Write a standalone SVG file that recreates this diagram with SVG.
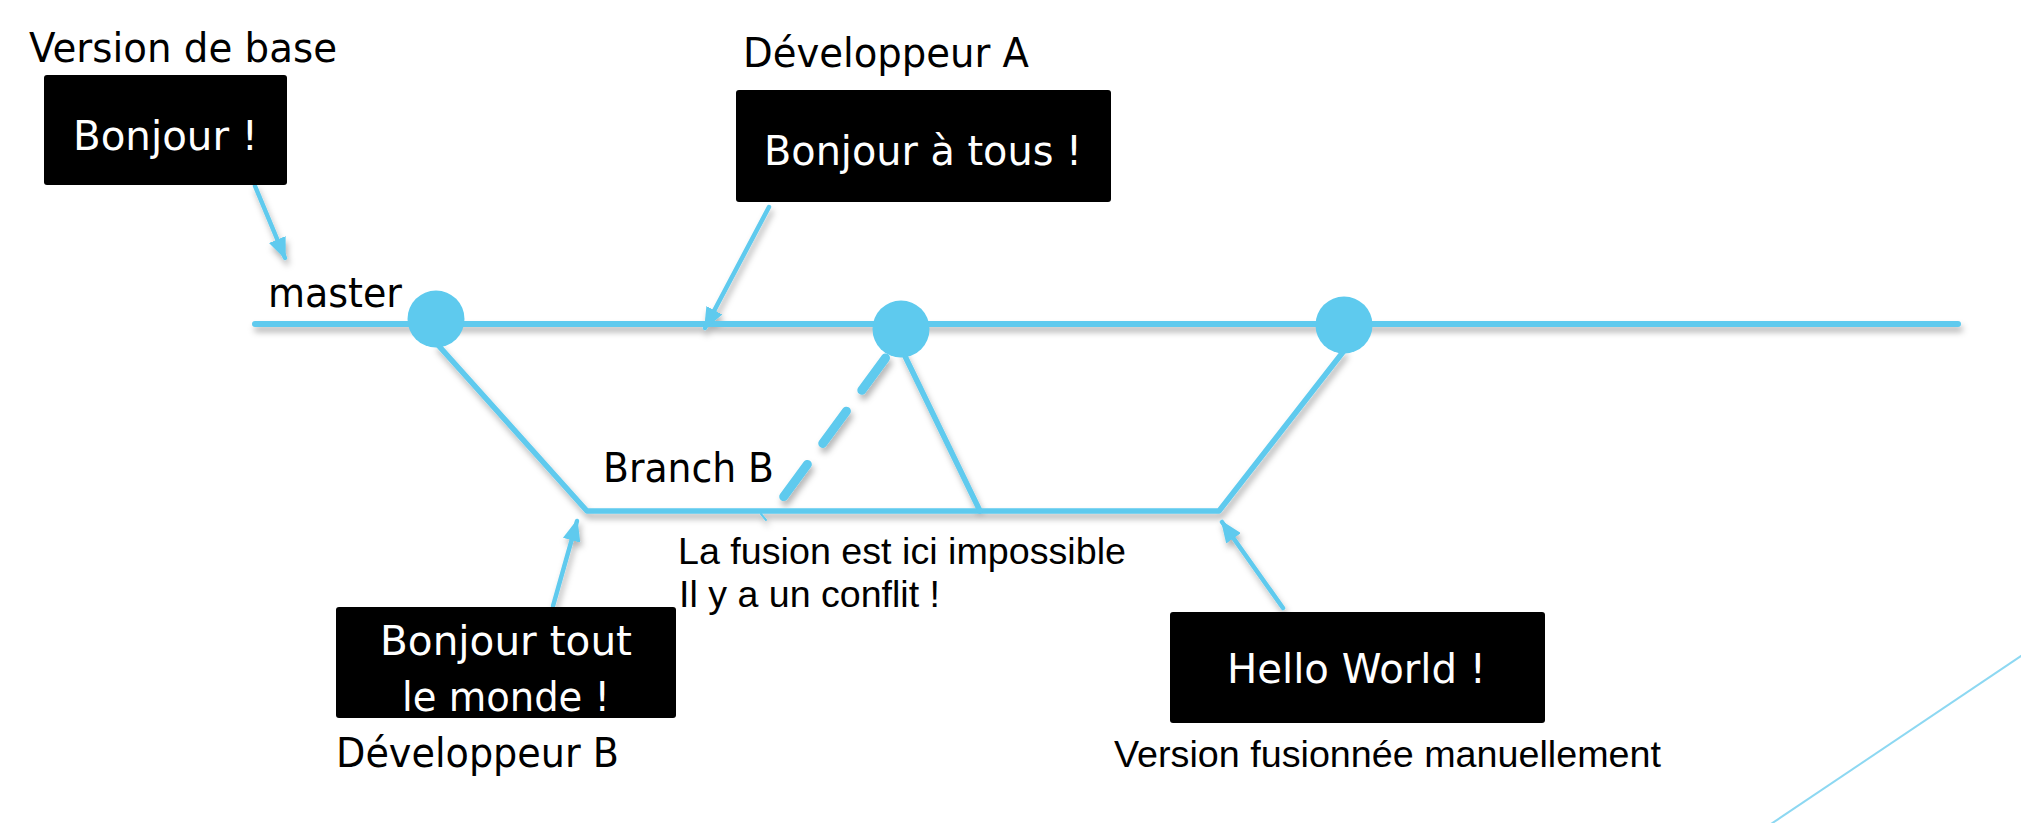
<svg xmlns="http://www.w3.org/2000/svg" width="2021" height="823" viewBox="0 0 2021 823">
<style>
.lbl{font-family:"DejaVu Sans","Noto Sans",sans-serif;font-size:40px;fill:#000}
.wt{font-family:"DejaVu Sans","Noto Sans",sans-serif;font-size:40px;fill:#fff}
.ar{font-family:"Liberation Sans",Arial,sans-serif;font-size:37.5px;fill:#000}
.box{fill:#000}
.ln{stroke:#5ECAEE;stroke-linecap:round;fill:none}
.dot{fill:#5ECAEE}
</style>
<defs>
<filter id="sh" x="-10%" y="-10%" width="120%" height="140%">
<feDropShadow dx="2" dy="5" stdDeviation="3" flood-color="#000" flood-opacity="0.3"/>
</filter>
<marker id="ah" markerUnits="userSpaceOnUse" markerWidth="22" markerHeight="18" refX="20" refY="9" orient="auto">
<path d="M0,0 L22,9 L0,18 Z" fill="#5ECAEE"/>
</marker>
</defs>

<g id="connectors" filter="url(#sh)">
<line class="ln" x1="255" y1="324" x2="1958" y2="324" stroke-width="6"/>
<polyline class="ln" points="438,345 587,511 1219,511 1343,352" stroke-width="5.5" stroke-linejoin="round"/>
<line class="ln" x1="903" y1="352" x2="980" y2="511" stroke-width="5.5"/>
<line class="ln" x1="885.5" y1="358" x2="783.7" y2="496.6" stroke-width="9" stroke-linecap="butt" stroke-dasharray="40 26"/>
<line class="ln" x1="761" y1="514" x2="766" y2="520" stroke-width="2"/>
<line class="ln" x1="255" y1="186" x2="285" y2="258" stroke-width="4.5" marker-end="url(#ah)"/>
<line class="ln" x1="769" y1="207" x2="705" y2="328" stroke-width="4.5" marker-end="url(#ah)"/>
<line class="ln" x1="553" y1="606" x2="577" y2="521" stroke-width="4.5" marker-end="url(#ah)"/>
<line class="ln" x1="1283" y1="608" x2="1222" y2="522" stroke-width="4.5" marker-end="url(#ah)"/>
</g>
<line id="deco" x1="2030" y1="650" x2="1765" y2="828" stroke="#8DD8F2" stroke-width="2"/>

<g id="c1"><circle class="dot" cx="436" cy="319" r="28.5"/></g>
<g id="c2"><circle class="dot" cx="901" cy="329" r="28.5"/></g>
<g id="c3"><circle class="dot" cx="1344" cy="325" r="28.5"/></g>

<g id="base">
<text class="lbl" x="29" y="62" textLength="308" lengthAdjust="spacingAndGlyphs">Version de base</text>
<rect class="box" x="44" y="75" width="243" height="110" rx="3"/>
<text class="wt" x="73" y="150" textLength="185" lengthAdjust="spacingAndGlyphs">Bonjour !</text>
</g>
<g id="devA">
<text class="lbl" x="743" y="67" textLength="286" lengthAdjust="spacingAndGlyphs">Développeur A</text>
<rect class="box" x="736" y="90" width="375" height="112" rx="3"/>
<text class="wt" x="764" y="165" textLength="318" lengthAdjust="spacingAndGlyphs">Bonjour à tous !</text>
</g>
<g id="masterLabel">
<text class="lbl" x="268" y="307" textLength="134" lengthAdjust="spacingAndGlyphs">master</text>
</g>
<g id="branchLabel">
<text class="lbl" x="603" y="482" textLength="171" lengthAdjust="spacingAndGlyphs">Branch B</text>
</g>
<g id="conflict">
<text class="ar" x="678" y="564" textLength="448" lengthAdjust="spacingAndGlyphs">La fusion est ici impossible</text>
<text class="ar" x="679" y="607" textLength="261" lengthAdjust="spacingAndGlyphs">Il y a un conflit !</text>
</g>
<g id="devB">
<rect class="box" x="336" y="607" width="340" height="111" rx="3"/>
<text class="wt" x="380" y="655" textLength="252" lengthAdjust="spacingAndGlyphs">Bonjour tout</text>
<text class="wt" x="402" y="711" textLength="208" lengthAdjust="spacingAndGlyphs">le monde !</text>
<text class="lbl" x="336" y="767" textLength="283" lengthAdjust="spacingAndGlyphs">Développeur B</text>
</g>
<g id="merged">
<rect class="box" x="1170" y="612" width="375" height="111" rx="3"/>
<text class="wt" x="1227" y="683" textLength="259" lengthAdjust="spacingAndGlyphs">Hello World !</text>
<text class="ar" x="1114" y="767" textLength="547" lengthAdjust="spacingAndGlyphs">Version fusionnée manuellement</text>
</g>
</svg>
